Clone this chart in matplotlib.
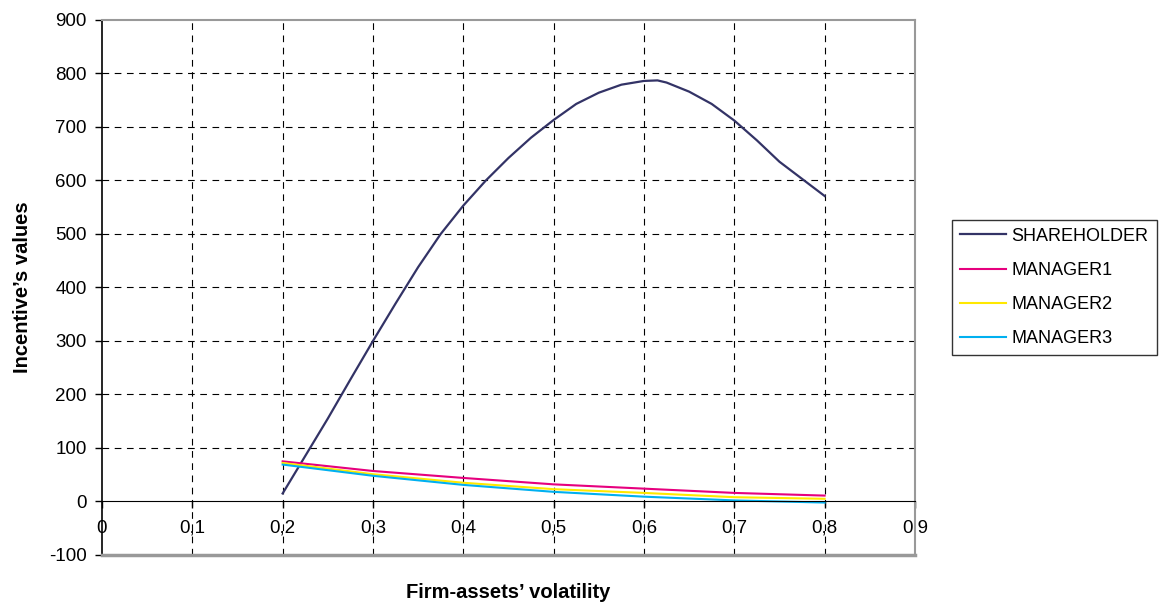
import numpy as np
import matplotlib.pyplot as plt
from matplotlib.ticker import FuncFormatter

plt.rcParams['font.family'] = ['Liberation Sans', 'DejaVu Sans']
plt.rcParams['axes.unicode_minus'] = False

# ---------------- DATA ----------------
vol_sh = [0.2, 0.225, 0.25, 0.275, 0.3, 0.325, 0.35, 0.375, 0.4, 0.425,
          0.45, 0.475, 0.5, 0.525, 0.55, 0.575, 0.6, 0.615, 0.625, 0.65,
          0.675, 0.7, 0.725, 0.75, 0.775, 0.8]
shareholder = [15, 85, 155, 228, 300, 370, 438, 500, 553, 600,
               642, 680, 713, 743, 764, 779, 786, 787, 783, 766,
               743, 712, 675, 635, 603, 571]

vol_mgr = [0.2, 0.3, 0.4, 0.5, 0.6, 0.7, 0.8]
manager1 = [75, 57, 44, 32, 24, 16, 11]
manager2 = [72, 51, 35, 23, 16, 8, 5]
manager3 = [69, 48, 31, 18, 9, 2, -2]

x_ticks = np.arange(0, 0.91, 0.1)
y_ticks = np.arange(-100, 901, 100)

# ---------------- FIGURE ----------------
fig = plt.figure(figsize=(11.63, 6.08), dpi=100)
ax = fig.add_axes([0.0877, 0.0872, 0.699, 0.880])

ax.plot(vol_sh, shareholder, color='#333366', lw=1.6, label='SHAREHOLDER')
ax.plot(vol_mgr, manager1, color='#E6007E', lw=1.5, label='MANAGER1')
ax.plot(vol_mgr, manager2, color='#FFE800', lw=1.5, label='MANAGER2')
ax.plot(vol_mgr, manager3, color='#00B0F0', lw=1.5, label='MANAGER3')

ax.set_xlim(0, 0.9)
ax.set_ylim(-100, 900)
ax.set_xticks(x_ticks)
ax.set_yticks(y_ticks)
ax.xaxis.set_major_formatter(FuncFormatter(
    lambda v, p: '0' if abs(v) < 1e-9 else f'{v:.1f}'.replace('.', ',')))

# dashed grid, skipping the frame edges
for xv in x_ticks[1:-1]:
    ax.axvline(xv, color='black', lw=0.8, ls=(0, (6, 5)), zorder=0)
for yv in y_ticks:
    if yv in (-100, 0, 900):
        continue
    ax.axhline(yv, color='black', lw=0.8, ls=(0, (6, 5)), zorder=0)

# x axis sits on zero, frame stays grey
ax.spines['bottom'].set_position(('data', 0))
ax.spines['bottom'].set_color('black')
ax.spines['left'].set_color('black')
ax.spines['left'].set_linewidth(1.2)
for s in ('top', 'right'):
    ax.spines[s].set_color('#999999')
    ax.spines[s].set_linewidth(1.5)
ax.axhline(-100, color='#999999', lw=2.5, clip_on=False, zorder=3)

ax.tick_params(axis='both', direction='out', length=5, width=1,
               labelsize=13.5, colors='black')
ax.tick_params(axis='x', pad=8)
ax.tick_params(axis='y', pad=6)

ax.set_xlabel('Firm-assets\u2019 volatility', fontsize=14.5, fontweight='bold')
ax.xaxis.set_label_coords(0.5, -0.052)
ax.set_ylabel('Incentive\u2019s values', fontsize=14.5, fontweight='bold')
ax.yaxis.set_label_coords(-0.086, 0.5)

leg = ax.legend(loc='center left', bbox_to_anchor=(1.045, 0.5),
                fontsize=13, handlelength=2.55, frameon=True, fancybox=False,
                edgecolor='black', borderpad=0.45, labelspacing=0.95,
                handletextpad=0.33, borderaxespad=0)
leg.get_frame().set_linewidth(1.0)

fig.savefig('out.png', dpi=100)
